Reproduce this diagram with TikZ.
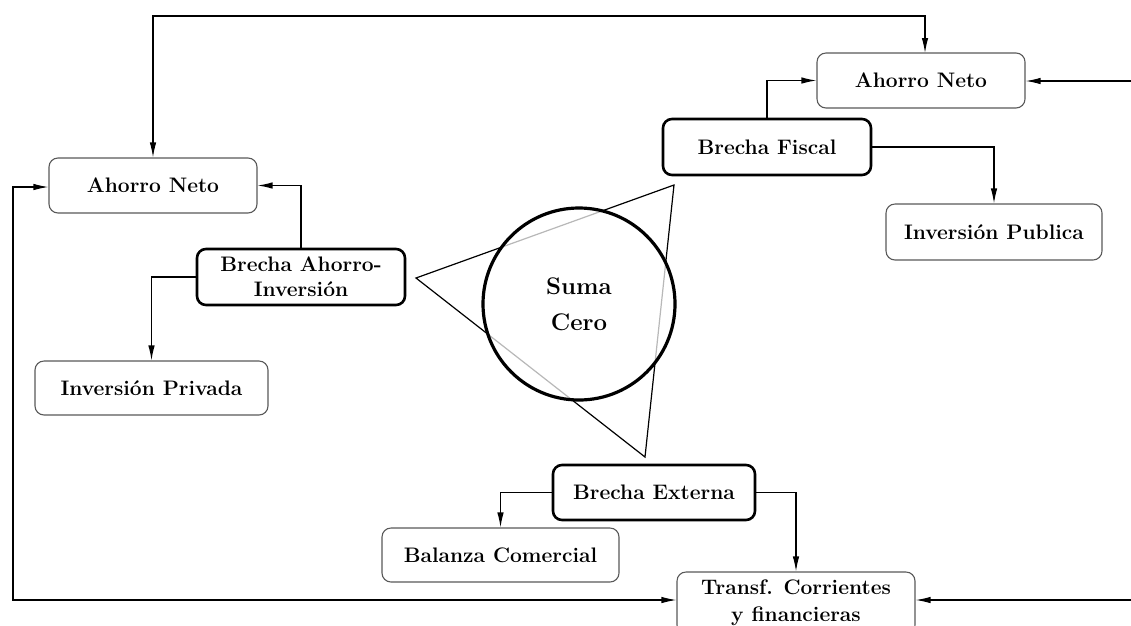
\documentclass[tikz,border=0pt]{standalone}
\usetikzlibrary{arrows.meta}
\begin{document}
\begin{tikzpicture}[x=1pt,y=-1pt,
  lbl/.style={font=\fontsize{21}{25}\selectfont\bfseries, align=center},
  box/.style={lbl, draw=black!65, line width=1.1pt, rounded corners=9pt, fill=white, inner sep=0pt},
  gapbox/.style={box, draw=black, line width=2.6pt},
  arr/.style={line width=1.2pt, -{Latex[length=15pt,width=6.5pt]}},
  darr/.style={line width=1.2pt, {Latex[length=15pt,width=6.5pt]}-{Latex[length=15pt,width=6.5pt]}}]
\useasboundingbox (0,0) rectangle (1131,625);
\clip (0,0) rectangle (1131,625);

% triangle behind the circle
\coordinate (t1) at (416,278);
\coordinate (t2) at (674,185);
\coordinate (t3) at (645,457);
\draw[line width=1.2pt] (t1) -- (t2) -- (t3) -- cycle;
\node[circle, draw, line width=3.2pt, minimum size=192pt, fill=white, fill opacity=0.72, draw opacity=1, text opacity=1, font=\fontsize{24}{36}\selectfont\bfseries, align=center] (sc) at (579,304) {Suma\\Cero};

% nodes
\node[box, minimum width=208pt, minimum height=55pt] (an1) at (921,80.5) {Ahorro Neto};
\node[gapbox, minimum width=208pt, minimum height=56pt] (bf) at (767,147) {Brecha Fiscal};
\node[box, minimum width=216pt, minimum height=56pt] (ip) at (994,232) {Inversión Publica};
\node[box, minimum width=208pt, minimum height=55pt] (an2) at (153,185.5) {Ahorro Neto};
\node[gapbox, minimum width=208pt, minimum height=56pt] (bai) at (301,277) {Brecha Ahorro-\\Inversión};
\node[box, minimum width=233pt, minimum height=54pt] (ipr) at (151.5,388) {Inversión Privada};
\node[gapbox, minimum width=202pt, minimum height=55pt] (be) at (654,492.5) {Brecha Externa};
\node[box, minimum width=237pt, minimum height=54pt] (bc) at (500.5,555) {Balanza Comercial};
\node[box, minimum width=238pt, minimum height=62pt, font=\fontsize{21}{27}\selectfont\bfseries] (tr) at (796,603) {Transf. Corrientes\\y financieras};

% helper coordinates
\coordinate (topL) at (153,16);
\coordinate (topR) at (925,16);
\coordinate (an1top) at (925,53);
\coordinate (leftT) at (13,187);
\coordinate (leftB) at (13,600);
\coordinate (rightA) at (1140,81);
\coordinate (rightT) at (1140,600);

% connectors
\draw[darr] (an2.north) -- (topL) -- (topR) -- (an1top);
\draw[darr] (an2.west |- leftT) -- (leftT) -- (leftB) -- (tr.west |- leftB);
\draw[arr] (rightA) -- (an1.east |- rightA);
\draw[arr] (rightT) -- (tr.east |- rightT);
\draw[arr] (bf.north) |- (an1.west);
\draw[arr] (bf.east) -| (ip.north);
\draw[arr] (bai.north) |- (an2.east);
\draw[arr] (bai.west) -| (ipr.north);
\draw[arr] (be.west) -| (bc.north);
\draw[arr] (be.east) -| (tr.north);
\end{tikzpicture}
\end{document}
